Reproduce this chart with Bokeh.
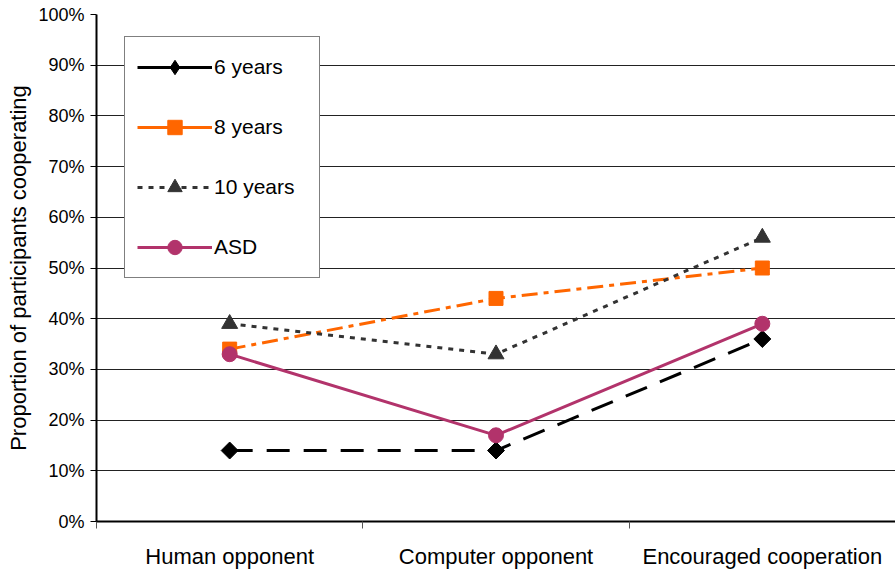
from bokeh.plotting import figure
from bokeh.models import FixedTicker, PrintfTickFormatter, Legend, LegendItem
from bokeh.embed import file_html
from bokeh.resources import INLINE
import math

categories = ["Human opponent", "Computer opponent", "Encouraged cooperation"]
years6 = [14, 14, 36]
years8 = [34, 44, 50]
years10 = [39, 33, 56]
asd = [33, 17, 39]
y_ticks = [0, 10, 20, 30, 40, 50, 60, 70, 80, 90, 100]

xs = [i + 0.5 for i in range(len(categories))]
nan = [float("nan")]  # legend-only proxies (never visible in the plot area)

p = figure(width=895, height=571, output_backend="svg", toolbar_location=None,
           x_range=(0, 3), y_range=(0, 100),
           min_border_left=96, min_border_top=14, min_border_bottom=49, min_border_right=0)
p.outline_line_color = None
p.background_fill_color = "white"

# axes
p.xaxis.ticker = FixedTicker(ticks=xs, minor_ticks=[0, 1, 2, 3])
p.xaxis.major_label_overrides = {x: c for x, c in zip(xs, categories)}
p.xaxis.major_tick_out = 0
p.xaxis.major_tick_in = 0
p.xaxis.minor_tick_out = 7
p.xaxis.minor_tick_in = 0
p.xaxis.minor_tick_line_color = "#555555"
p.xaxis.axis_line_width = 2
p.xaxis.axis_line_color = "black"
p.xaxis.major_label_standoff = 15
p.xaxis.major_label_text_font = "Liberation Sans"
p.xaxis.major_label_text_font_size = "22px"
p.xaxis.major_label_text_color = "black"

p.yaxis.ticker = FixedTicker(ticks=y_ticks)
p.yaxis.formatter = PrintfTickFormatter(format="%d%%")
p.yaxis.major_tick_out = 6
p.yaxis.major_tick_in = 0
p.yaxis.minor_tick_line_color = None
p.yaxis.axis_line_width = 2
p.yaxis.axis_line_color = "black"
p.yaxis.major_label_text_font = "Liberation Sans"
p.yaxis.major_label_text_font_size = "18px"
p.yaxis.major_label_text_color = "black"
p.yaxis.major_label_standoff = 6
p.yaxis.axis_label = "Proportion of participants cooperating"
p.yaxis.axis_label_text_font = "Liberation Sans"
p.yaxis.axis_label_text_font_style = "normal"
p.yaxis.axis_label_text_font_size = "22px"
p.yaxis.axis_label_text_color = "black"
p.yaxis.axis_label_standoff = 4

p.xgrid.grid_line_color = None
p.ygrid.ticker = FixedTicker(ticks=y_ticks)
p.ygrid.grid_line_color = "#222222"
p.ygrid.grid_line_width = 1

items = []
p.line(xs, years6, line_color="black", line_width=3, line_dash="23 14")
p.scatter(xs, years6, marker="square", size=12, angle=math.pi / 4,
          fill_color="black", line_color="black")
l1 = p.line(nan, nan, line_color="black", line_width=3)
k1 = p.scatter(nan, nan, marker="diamond", size=18, fill_color="black", line_color="black")
items.append(LegendItem(label="6 years", renderers=[l1, k1]))

p.line(xs, years8, line_color="#ff6600", line_width=3, line_dash="16 6 5 6")
m2 = p.scatter(xs, years8, marker="square", size=14, fill_color="#ff6600", line_color="#ff6600")
l2 = p.line(nan, nan, line_color="#ff6600", line_width=3)
items.append(LegendItem(label="8 years", renderers=[l2, m2]))

r3 = p.line(xs, years10, line_color="#333333", line_width=3, line_dash="5 6")
m3 = p.scatter(xs, years10, marker="triangle", size=16, fill_color="#333333", line_color="#333333")
items.append(LegendItem(label="10 years", renderers=[r3, m3]))

r4 = p.line(xs, asd, line_color="#b2336b", line_width=3)
m4 = p.scatter(xs, asd, marker="circle", size=15, fill_color="#b2336b", line_color="#b2336b")
items.append(LegendItem(label="ASD", renderers=[r4, m4]))

legend = Legend(items=items, location=(28, 243))
legend.border_line_color = "black"
legend.border_line_width = 1
legend.background_fill_color = "white"
legend.background_fill_alpha = 1
legend.padding = 12
legend.spacing = 24
legend.glyph_width = 75
legend.glyph_height = 36
legend.label_height = 36
legend.label_width = 93
legend.label_standoff = 2
legend.margin = 0
legend.label_text_font = "Liberation Sans"
legend.label_text_font_size = "21px"
legend.label_text_color = "black"
p.add_layout(legend, "center")

open("out.html", "w").write(file_html(p, INLINE))
